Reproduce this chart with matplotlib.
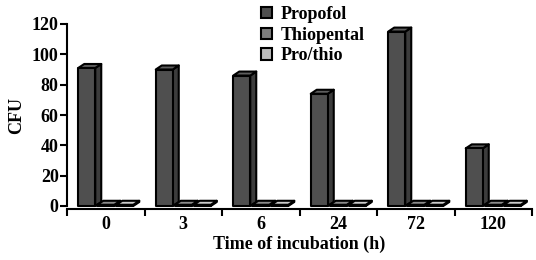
import matplotlib
matplotlib.use("Agg")
import matplotlib.pyplot as plt
from matplotlib.patches import Polygon, Rectangle
import numpy as np

categories = ["0", "3", "6", "24", "72", "120"]
series_names = ["Propofol", "Thiopental", "Pro/thio"]
propofol = [91, 90, 86, 74, 115, 38]
thiopental = [0.8, 0.8, 0.8, 0.8, 0.8, 0.8]
prothio = [0.8, 0.8, 0.8, 0.8, 0.8, 0.8]
y_ticks = [0, 20, 40, 60, 80, 100, 120]

plt.rcParams['font.family'] = ['Liberation Serif', 'DejaVu Serif']
plt.rcParams['font.weight'] = 'bold'

W, H = 536, 260
RIGHT = 532
fig = plt.figure(figsize=(W/100, H/100), dpi=100)
ax = fig.add_axes([67/W, (H-206)/H, (RIGHT-67)/W, 182/H])
ax.set_xlim(-0.5, len(categories) - 0.5)
ax.set_ylim(0, 120)

front_colors = ["#4f4f4f", "#7d7d7d", "#bdbdbd"]
side_colors = ["#3c3c3c", "#6a6a6a", "#a8a8a8"]
top_colors = ["#5e5e5e", "#8c8c8c", "#cccccc"]

px_per_x = (RIGHT-67) / len(categories)
px_per_y = 182 / 120
dx = 6 / px_per_x
dy = 4 / px_per_y
bw = 17 / px_per_x
offs = [-19 / px_per_x, 0, 19 / px_per_x]

data = [propofol, thiopental, prothio]
for s, vals in enumerate(data):
    for i, v in enumerate(vals):
        x0 = i + offs[s] - bw/2
        x1 = x0 + bw
        kw = dict(edgecolor="black", linewidth=1.5, clip_on=False, joinstyle='round')
        ax.add_patch(Polygon([(x1, 0), (x1+dx, dy), (x1+dx, v+dy), (x1, v)],
                             closed=True, facecolor=side_colors[s], zorder=3, **kw))
        ax.add_patch(Polygon([(x0, v), (x0+dx, v+dy), (x1+dx, v+dy), (x1, v)],
                             closed=True, facecolor=top_colors[s], zorder=3, **kw))
        ax.add_patch(Rectangle((x0, 0), bw, v, facecolor=front_colors[s], zorder=4, **kw))

for sp in ["top", "right"]:
    ax.spines[sp].set_visible(False)
ax.spines["left"].set_linewidth(1.5)
ax.spines["bottom"].set_linewidth(1.5)
ax.spines["bottom"].set_position(("outward", 2))

ax.set_yticks(y_ticks)
ax.set_yticklabels([str(t) for t in y_ticks], fontsize=13, fontweight='bold')
ax.set_xticks(np.arange(len(categories)))
ax.set_xticklabels(categories, fontsize=13, fontweight='bold')
ax.set_xticks(np.arange(len(categories)+1) - 0.5, minor=True)
ax.tick_params(axis='x', which='major', length=0, pad=5)
ax.tick_params(axis='x', which='minor', length=5, width=1.5, direction='out')
ax.tick_params(axis='y', length=5, width=1.5, direction='out', pad=1)

ax.set_ylabel("CFU", fontsize=13, fontweight='bold', labelpad=5)
ax.set_xlabel("Time of incubation (h)", fontsize=13, fontweight='bold', labelpad=2)

handles = [Rectangle((0, 0), 1, 1, facecolor=front_colors[k], edgecolor="black", linewidth=1.5)
           for k in range(3)]
leg = fig.legend(handles, series_names, loc='upper left',
                 bbox_to_anchor=(261/W, 1 - 6/H), frameon=False, fontsize=13,
                 handlelength=0.6, handleheight=0.6, handletextpad=0.5,
                 labelspacing=0.2, borderpad=0, borderaxespad=0)

fig.savefig("out.png", dpi=100)
